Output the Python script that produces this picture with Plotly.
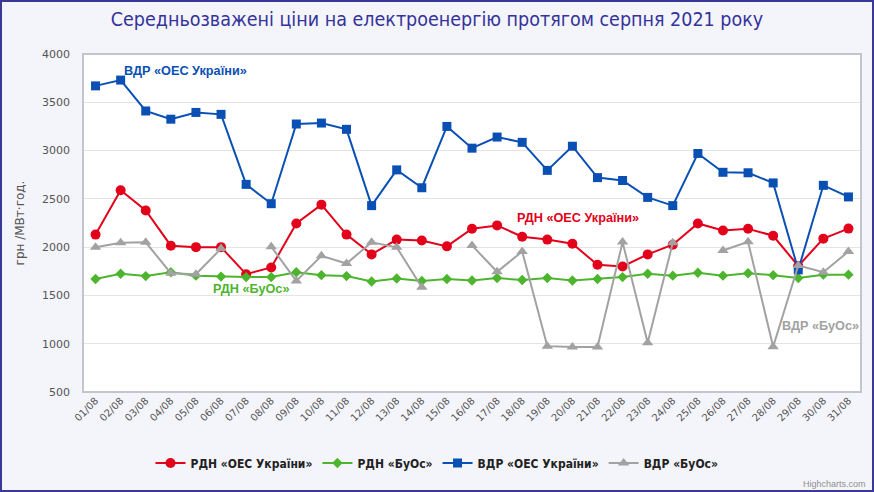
import plotly.graph_objects as go

dates = [f"{d:02d}/08" for d in range(1, 32)]

rdn_oes = [2130, 2590, 2380, 2015, 2000, 2000, 1720, 1790, 2245, 2440, 2130, 1925, 2078, 2068, 2008,
           2190, 2225, 2108, 2078, 2035, 1818, 1800, 1925, 2025, 2245, 2172, 2190, 2118, 1805, 2088, 2192]
rdn_buos = [1670, 1725, 1700, 1740, 1705, 1695, 1690, 1690, 1740, 1710, 1700, 1645, 1675, 1650, 1670,
            1655, 1680, 1660, 1680, 1655, 1670, 1690, 1725, 1705, 1735, 1705, 1730, 1710, 1680, 1715, 1715]
vdr_oes = [3670, 3730, 3410, 3325, 3395, 3375, 2650, 2450, 3275, 3285, 3220, 2430, 2800, 2615, 3250,
           3025, 3140, 3085, 2795, 3045, 2720, 2690, 2515, 2430, 2970, 2775, 2770, 2665, 1765, 2640, 2520]
vdr_buos = [2000, 2045, 2050, 1730, 1720, 1985, None, 2005, 1650, 1910, 1830, 2050, 1998, 1585, None,
            2018, 1745, 1955, 975, 965, 965, 2052, 1010, 2045, None, 1965, 2055, 968, 1810, 1740, 1955]

names = ["РДН «ОЕС України»", "РДН «БуОс»", "ВДР «ОЕС України»", "ВДР «БуОс»"]
colors = ["#e2001a", "#4db52d", "#0a50b4", "#a2a2a2"]
symbols = ["circle", "diamond", "square", "triangle-up"]
sizes = [10, 8, 9, 10]
series = [rdn_oes, rdn_buos, vdr_oes, vdr_buos]

W, H = 874, 492
ML, MR, MT, MB = 83, 13, 54, 100
pw, ph = W - ML - MR, H - MT - MB

fig = go.Figure()
for name, col, sym, sz, vals in zip(names, colors, symbols, sizes, series):
    fig.add_trace(go.Scatter(
        x=dates, y=vals, name=name, mode="lines+markers",
        line=dict(color=col, width=2),
        marker=dict(color=col, symbol=sym, size=sz),
        connectgaps=False,
    ))

narrow = "DejaVu Sans Condensed, Liberation Sans Narrow, Liberation Sans, sans-serif"

fig.update_layout(
    width=W, height=H,
    margin=dict(l=ML, r=MR, t=MT, b=MB, autoexpand=False),
    paper_bgcolor="#f4f4fb",
    plot_bgcolor="#ffffff",
    title=dict(text="Середньозважені ціни на електроенергію протягом серпня 2021 року",
               x=0.5, xref="container", xanchor="center", y=1 - 19 / H, yanchor="middle",
               font=dict(family=narrow, size=19.5, color="#33339a")),
    showlegend=True,
    legend=dict(orientation="h", x=(W / 2 - ML) / pw, xanchor="center", xref="paper",
                y=-(463 - (H - MB)) / ph, yanchor="middle",
                font=dict(family=narrow, size=12, color="#222222", weight="bold"),
                bgcolor="rgba(0,0,0,0)", itemwidth=30, tracegroupgap=0),
    xaxis=dict(type="category", range=[-0.5, 30.5], tickangle=-45,
               tickfont=dict(family="DejaVu Sans, sans-serif", size=10, color="#555555"),
               showgrid=False, showline=False, ticks="", zeroline=False),
    yaxis=dict(range=[500, 4000], tickvals=[500, 1000, 1500, 2000, 2500, 3000, 3500, 4000],
               tickfont=dict(family="DejaVu Sans, sans-serif", size=11, color="#555555"),
               ticklabelstandoff=12,
               gridcolor="#e4e4e4", gridwidth=1, showline=False, zeroline=False, ticks="",
               title=dict(text="грн /МВт·год.", standoff=14,
                          font=dict(family="DejaVu Sans, sans-serif", size=12, color="#555555"))),
)

# plot border
fig.add_shape(type="rect", xref="paper", yref="paper", x0=0, x1=1, y0=0, y1=1,
              line=dict(color="#c4c4cc", width=2), layer="above")
# outer chart border
fig.add_shape(type="rect", xref="paper", yref="paper",
              x0=-(ML - 1) / pw, x1=1 + (MR - 1) / pw, y0=-(MB - 1) / ph, y1=1 + (MT - 1) / ph,
              line=dict(color="#3a3a96", width=2), layer="above")

ann = [
    ("ВДР «ОЕС України»", 1.05, 3820, "#0a50b4", "left"),
    ("РДН «ОЕС України»", 16.7, 2305, "#e2001a", "left"),
    ("РДН «БуОс»", 4.6, 1565, "#4db52d", "left"),
    ("ВДР «БуОс»", 30.5, 1180, "#a2a2a2", "right"),
]
for txt, xx, yy, col, anc in ann:
    fig.add_annotation(text=f"<b>{txt}</b>", x=xx, y=yy, xref="x", yref="y",
                       xanchor=anc, yanchor="middle", showarrow=False,
                       font=dict(family="Liberation Sans, Arial, sans-serif", size=12.7, color=col))

fig.add_annotation(text="Highcharts.com", xref="paper", yref="paper",
                   x=1 + (MR - 6) / pw, y=-(484 - (H - MB)) / ph, xanchor="right", yanchor="middle",
                   showarrow=False, font=dict(family="Liberation Sans, Arial, sans-serif", size=9, color="#909090"))

fig.write_html("out.html", config={"displayModeBar": False},
               post_script="document.body.style.margin='0';document.body.style.overflow='hidden';")
